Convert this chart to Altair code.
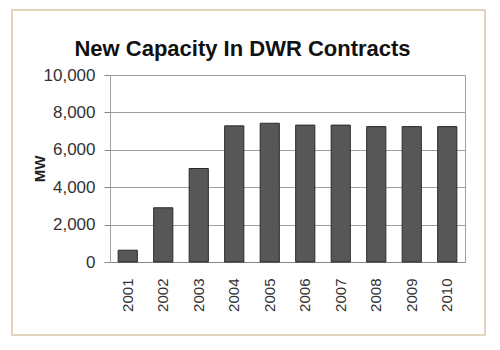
import altair as alt
import pandas as pd

years = ["2001", "2002", "2003", "2004", "2005", "2006", "2007", "2008", "2009", "2010"]
mw = [630, 2900, 5000, 7280, 7420, 7320, 7320, 7240, 7240, 7240]

df = pd.DataFrame({"year": years, "mw": mw})
FONT = "Liberation Sans"

W, H = 355, 187
L, T = 110, 75

frame = alt.Chart(pd.DataFrame({"a": [0]})).mark_rect(
    fillOpacity=0, stroke="#e3d5bb", strokeWidth=2, clip=False
).encode(
    x=alt.value(-L + 12), x2=alt.value(W + 20),
    y=alt.value(-T + 10), y2=alt.value(H + 73)
)

bars = alt.Chart(df).mark_bar(
    color="#575757", stroke="#2a2a2a", strokeWidth=1
).encode(
    x=alt.X("year:N", sort=years,
            scale=alt.Scale(paddingInner=0.46, paddingOuter=0.23),
            axis=alt.Axis(title=None, labelAngle=-90, labelFont=FONT, labelFontSize=15,
                          labelColor="#333333", ticks=False, labelPadding=16,
                          domainColor="#888888", labelBaseline="middle")),
    y=alt.Y("mw:Q", scale=alt.Scale(domain=[0, 10000], nice=False),
            axis=alt.Axis(title="MW", values=[0, 2000, 4000, 6000, 8000, 10000],
                          format=",d", labelFont=FONT, labelFontSize=17, labelColor="#333333",
                          tickSize=6, tickColor="#888888", labelPadding=9,
                          gridColor="#a0a0a0", domain=False,
                          titleFont=FONT, titleFontSize=15, titleFontWeight="bold",
                          titleColor="#222222", titleAngle=-90, titleX=-63, titleY=H / 2,
                          titleAlign="center", titleBaseline="bottom"))
)

chart = alt.layer(frame, bars).properties(
    width=W, height=H,
    title=alt.TitleParams("New Capacity In DWR Contracts", font=FONT, fontSize=22,
                          fontWeight="bold", color="#111111", anchor="middle",
                          frame="group", dx=-45, dy=69, offset=17),
    autosize=alt.AutoSizeParams(type="none"),
    padding={"left": L, "top": T, "right": 500 - L - W, "bottom": 350 - T - H},
    background="white",
).configure_view(stroke="#a0a0a0", strokeWidth=1)

chart.save("out.html", embed_options={"renderer": "svg", "actions": False})
